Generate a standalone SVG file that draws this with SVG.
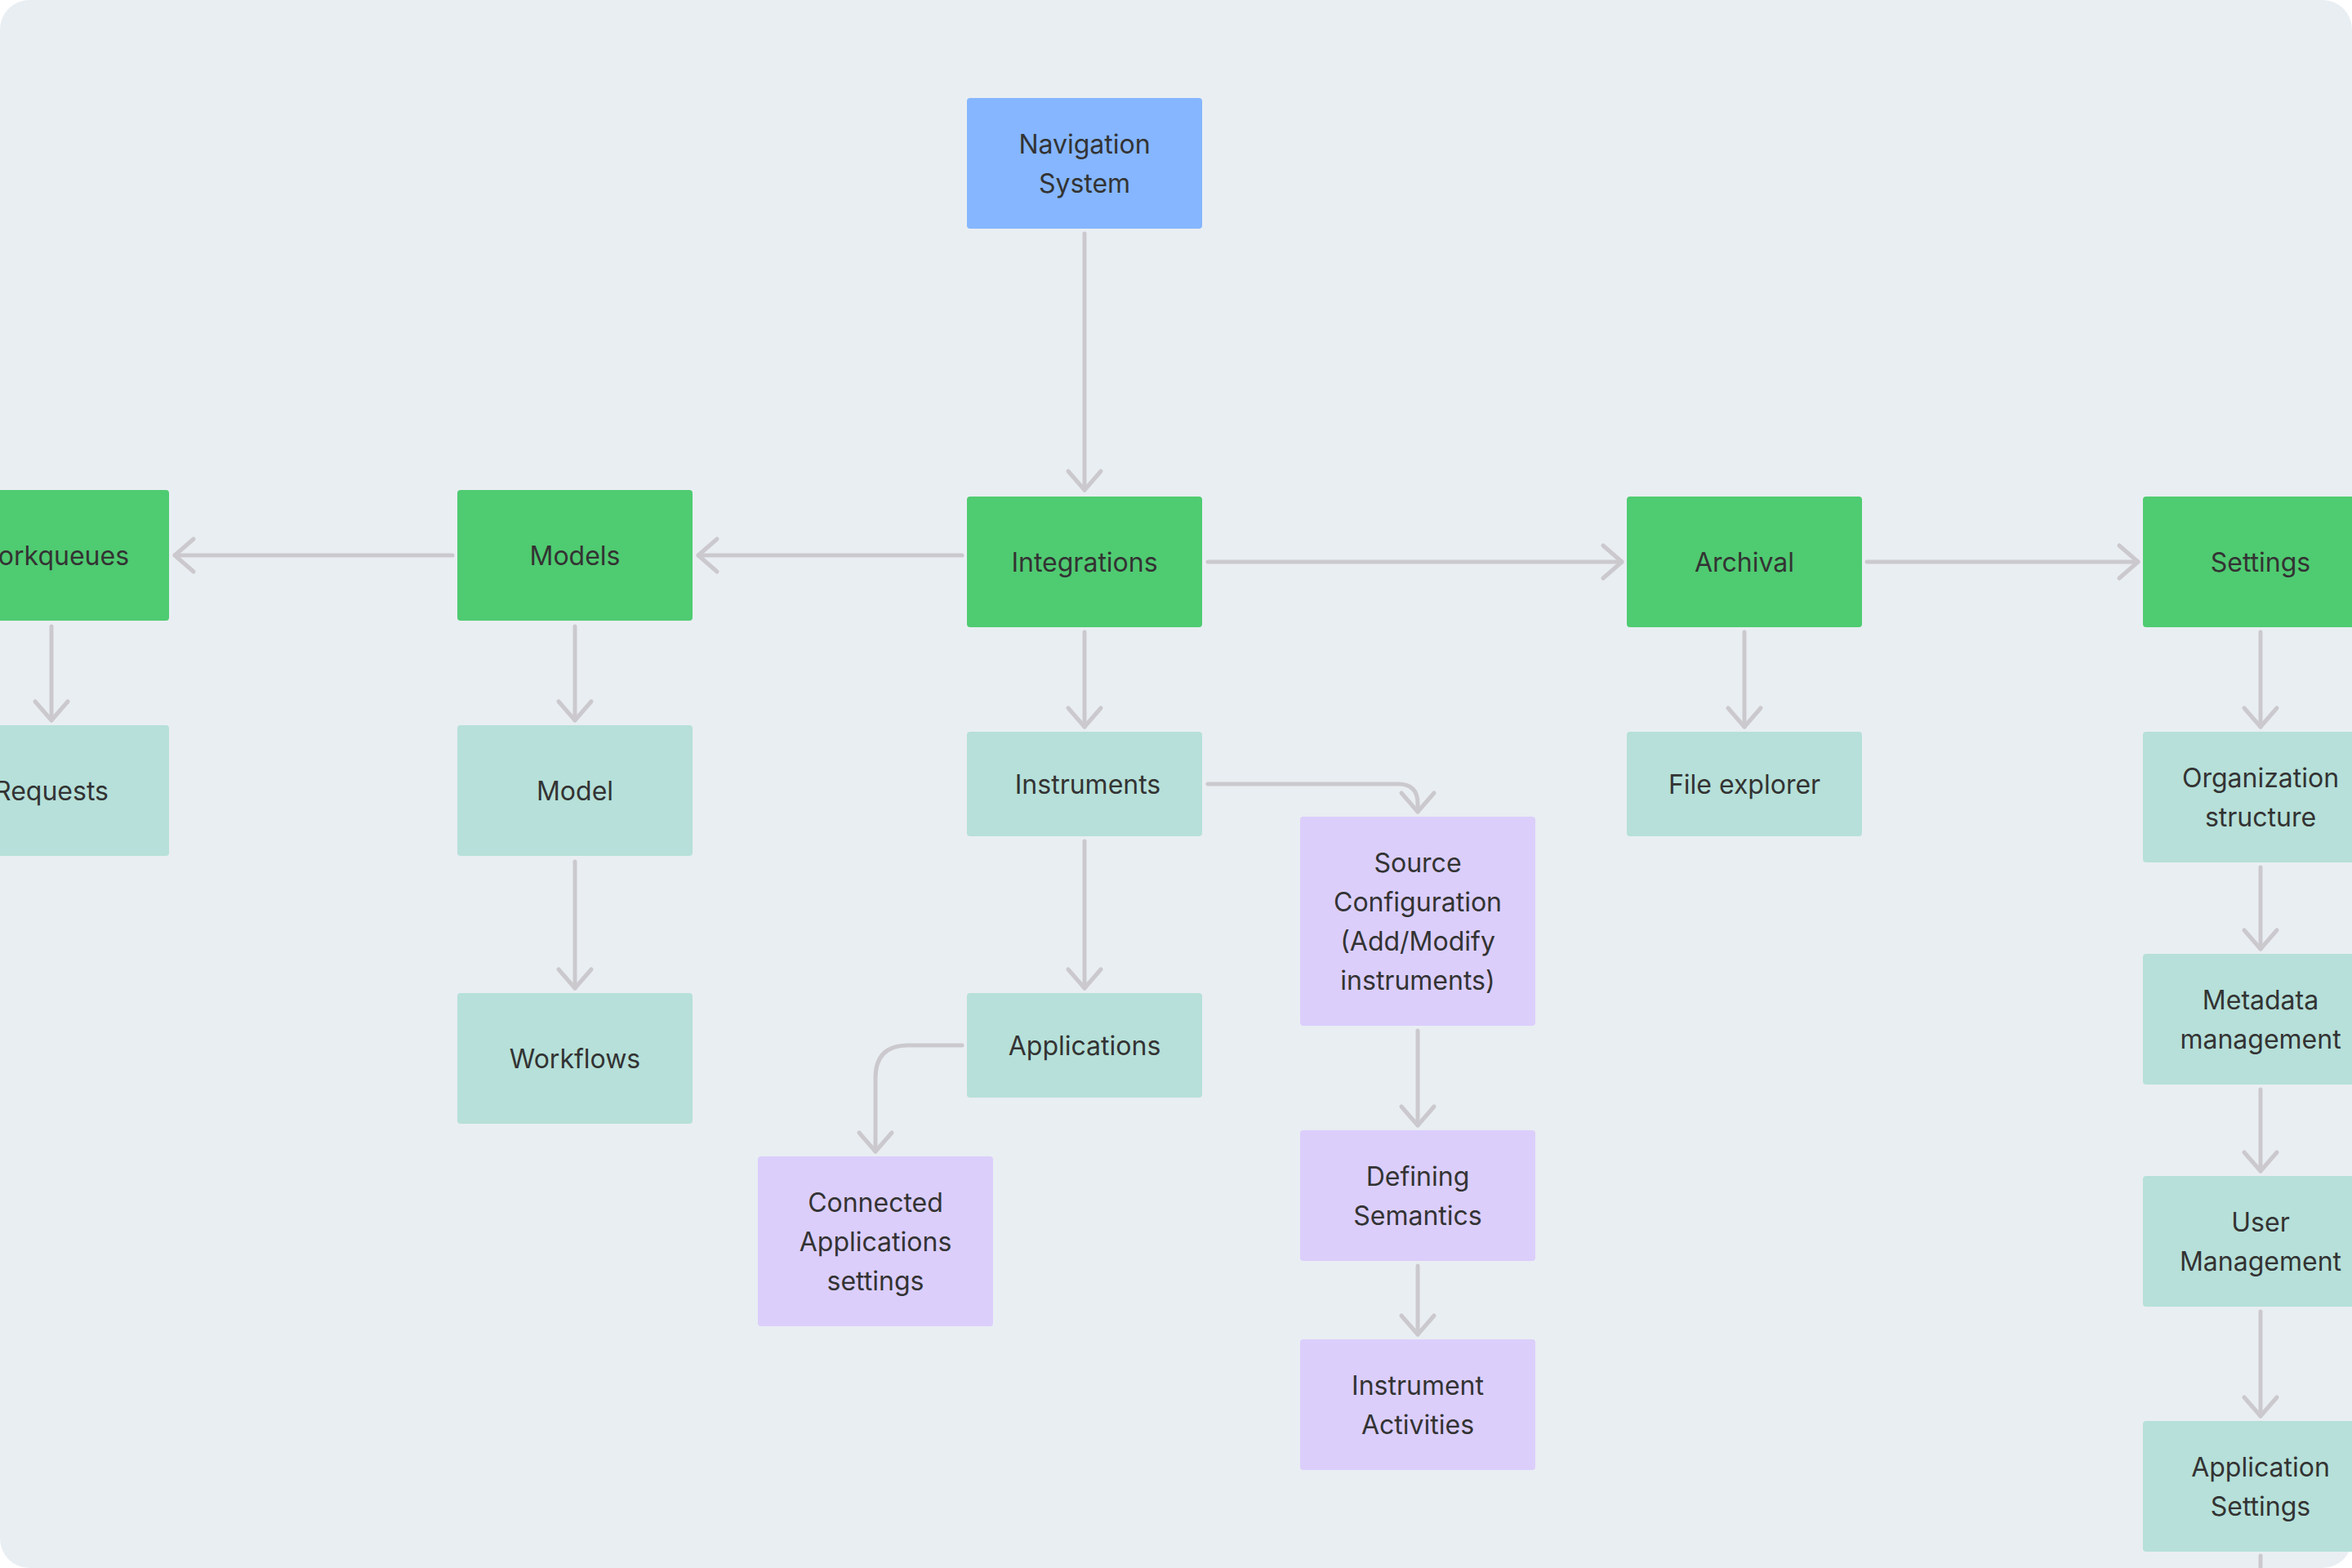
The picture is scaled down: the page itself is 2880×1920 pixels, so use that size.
<svg xmlns="http://www.w3.org/2000/svg" width="2880" height="1920" viewBox="0 0 2880 1920">
<style>
.nd rect{stroke:none}
.blue rect{fill:#85B6FF}
.green rect{fill:#4FCB71}
.teal rect{fill:#B6E0D9}
.purple rect{fill:#DBCEFB}
text{font-family:Inter,"Liberation Sans",sans-serif;font-size:32px;fill:#333333;text-anchor:middle}
.conn path{fill:none;stroke:#CBC9CD;stroke-width:5;stroke-linecap:round;stroke-linejoin:round}
</style>
<defs>
<marker id="ah" markerUnits="userSpaceOnUse" markerWidth="60" markerHeight="60" viewBox="-30 -30 60 60" refX="0" refY="0" orient="auto">
<path d="M-23,-20 L0,0 L-23,20" fill="none" stroke="#CBC9CD" stroke-width="5" stroke-linecap="round" stroke-linejoin="round"/>
</marker>
</defs>
<rect x="0" y="0" width="2880" height="1920" fill="#FFFFFF"/>
<rect x="0" y="0" width="2880" height="1920" rx="36" ry="36" fill="#E9EEF2"/>

<g class="conn">
<path d="M1328,286 V600" marker-end="url(#ah)"/>
<path d="M1178,680 H855" marker-end="url(#ah)"/>
<path d="M554,680 H214" marker-end="url(#ah)"/>
<path d="M1479,688 H1986" marker-end="url(#ah)"/>
<path d="M2286,688 H2618" marker-end="url(#ah)"/>
<path d="M63,767 V882" marker-end="url(#ah)"/>
<path d="M704,767 V882" marker-end="url(#ah)"/>
<path d="M704,1055 V1210" marker-end="url(#ah)"/>
<path d="M1328,774 V890" marker-end="url(#ah)"/>
<path d="M1328,1030 V1210" marker-end="url(#ah)"/>
<path d="M1479,960 H1712 Q1736,960 1736,984 V994" marker-end="url(#ah)"/>
<path d="M1178,1280 H1112 Q1072,1280 1072,1320 V1410" marker-end="url(#ah)"/>
<path d="M1736,1262 V1378" marker-end="url(#ah)"/>
<path d="M1736,1550 V1634" marker-end="url(#ah)"/>
<path d="M2136,774 V890" marker-end="url(#ah)"/>
<path d="M2768,774 V890" marker-end="url(#ah)"/>
<path d="M2768,1062 V1162" marker-end="url(#ah)"/>
<path d="M2768,1334 V1434" marker-end="url(#ah)"/>
<path d="M2768,1606 V1734" marker-end="url(#ah)"/>
<path d="M2768,1905 V1930"/>
</g>

<g id="nav" class="nd blue"><rect x="1184" y="120" width="288" height="160" rx="4"/><text x="1328" y="188">Navigation</text><text x="1328" y="236">System</text></g>
<g id="workqueues" class="nd green"><rect x="-81" y="600" width="288" height="160" rx="4"/><text x="63" y="692">Workqueues</text></g>
<g id="models" class="nd green"><rect x="560" y="600" width="288" height="160" rx="4"/><text x="704" y="692">Models</text></g>
<g id="integrations" class="nd green"><rect x="1184" y="608" width="288" height="160" rx="4"/><text x="1328" y="700">Integrations</text></g>
<g id="archival" class="nd green"><rect x="1992" y="608" width="288" height="160" rx="4"/><text x="2136" y="700">Archival</text></g>
<g id="settings" class="nd green"><rect x="2624" y="608" width="288" height="160" rx="4"/><text x="2768" y="700">Settings</text></g>
<g id="requests" class="nd teal"><rect x="-81" y="888" width="288" height="160" rx="4"/><text x="63" y="980">Requests</text></g>
<g id="model" class="nd teal"><rect x="560" y="888" width="288" height="160" rx="4"/><text x="704" y="980">Model</text></g>
<g id="workflows" class="nd teal"><rect x="560" y="1216" width="288" height="160" rx="4"/><text x="704" y="1308">Workflows</text></g>
<g id="instruments" class="nd teal"><rect x="1184" y="896" width="288" height="128" rx="4"/><text x="1332" y="972">Instruments</text></g>
<g id="applications" class="nd teal"><rect x="1184" y="1216" width="288" height="128" rx="4"/><text x="1328" y="1292">Applications</text></g>
<g id="fileexplorer" class="nd teal"><rect x="1992" y="896" width="288" height="128" rx="4"/><text x="2136" y="972">File explorer</text></g>
<g id="org" class="nd teal"><rect x="2624" y="896" width="288" height="160" rx="4"/><text x="2768" y="964">Organization</text><text x="2768" y="1012">structure</text></g>
<g id="metadata" class="nd teal"><rect x="2624" y="1168" width="288" height="160" rx="4"/><text x="2768" y="1236">Metadata</text><text x="2768" y="1284">management</text></g>
<g id="usermgmt" class="nd teal"><rect x="2624" y="1440" width="288" height="160" rx="4"/><text x="2768" y="1508">User</text><text x="2768" y="1556">Management</text></g>
<g id="appsettings" class="nd teal"><rect x="2624" y="1740" width="288" height="160" rx="4"/><text x="2768" y="1808">Application</text><text x="2768" y="1856">Settings</text></g>
<g id="source" class="nd purple"><rect x="1592" y="1000" width="288" height="256" rx="4"/><text x="1736" y="1068">Source</text><text x="1736" y="1116">Configuration</text><text x="1736" y="1164">(Add/Modify</text><text x="1736" y="1212">instruments)</text></g>
<g id="semantics" class="nd purple"><rect x="1592" y="1384" width="288" height="160" rx="4"/><text x="1736" y="1452">Defining</text><text x="1736" y="1500">Semantics</text></g>
<g id="activities" class="nd purple"><rect x="1592" y="1640" width="288" height="160" rx="4"/><text x="1736" y="1708">Instrument</text><text x="1736" y="1756">Activities</text></g>
<g id="connected" class="nd purple"><rect x="928" y="1416" width="288" height="208" rx="4"/><text x="1072" y="1484">Connected</text><text x="1072" y="1532">Applications</text><text x="1072" y="1580">settings</text></g>
</svg>
